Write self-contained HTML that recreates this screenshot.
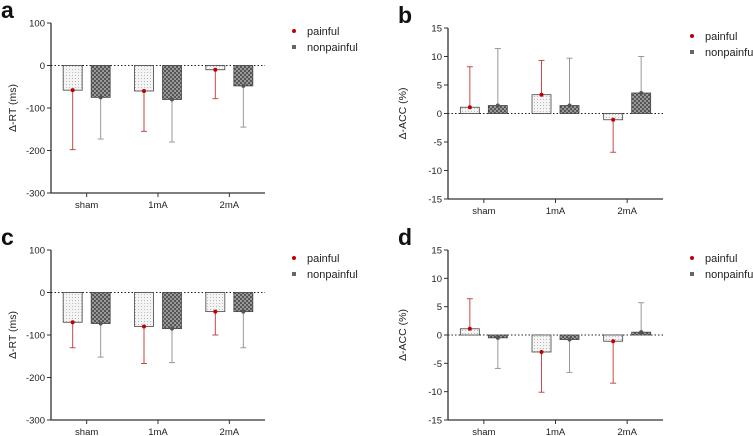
<!DOCTYPE html>
<html><head><meta charset="utf-8"><style>
body{margin:0;background:#fff;}
svg{display:block;font-family:"Liberation Sans",Arial,sans-serif;}
</style></head><body>
<svg id="fig" width="753" height="436" viewBox="0 0 753 436">
<defs>
<pattern id="dots" width="3" height="3" patternUnits="userSpaceOnUse"><rect width="3" height="3" fill="#f4f4f4"/><rect width="1" height="1" fill="#bbb"/></pattern>
<pattern id="check" width="4" height="4" patternUnits="userSpaceOnUse"><rect width="4" height="4" fill="#555"/><rect width="2" height="2" fill="#999"/><rect x="2" y="2" width="2" height="2" fill="#999"/></pattern>
</defs>
</svg>
<script>
const categories = ["sham","1mA","2mA"];
const aPainful = [-58,-60,-10], aPainfulErr = [-198,-155,-78];
const aNon = [-75,-80,-48], aNonErr = [-173,-180,-145];
const bPainful = [1.1,3.3,-1.1], bPainfulErr = [8.2,9.3,-6.8];
const bNon = [1.4,1.4,3.6], bNonErr = [11.4,9.7,10.0];
const cPainful = [-70,-80,-45], cPainfulErr = [-130,-167,-100];
const cNon = [-73,-85,-45], cNonErr = [-152,-165,-130];
const dPainful = [1.1,-3.0,-1.1], dPainfulErr = [6.4,-10.1,-8.5];
const dNon = [-0.5,-0.8,0.5], dNonErr = [-5.9,-6.6,5.7];
const rtTicks = [100,0,-100,-200,-300];
const accTicks = [15,10,5,0,-5,-10,-15];

const svg = document.getElementById('fig');
const NS = 'http://www.w3.org/2000/svg';
function mk(tag, attrs, parent, text){
  const e = document.createElementNS(NS, tag);
  for (const k in attrs) e.setAttribute(k, attrs[k]);
  if (text !== undefined) e.textContent = text;
  (parent || svg).appendChild(e);
  return e;
}

function panel(id, letter, ax, top, bot, xEnd, yMin, yMax, ticks, title, pV, pE, nV, nE){
  const g = mk('g', {});
  
  
  const y = v => bot - (v - yMin) / (yMax - yMin) * (bot - top);
  const catW = (xEnd - ax) / 3;
  const x = i => ax + catW * (i + 0.5);
  const bw = 19;
  const lab = mk('text', {x: ax - 50, y: top - 5, 'font-size': 23, 'font-weight': 'bold', fill: '#111'}, g, letter);
  
  
  const z = mk('line', {x1: ax, x2: xEnd, y1: y(0), y2: y(0), stroke: '#222', 'stroke-dasharray': '1.5,2', 'stroke-width': 1}, g);
  
  
  for (let i = 0; i < 3; i++) {
    const series = [[pV, pE, 'url(#dots)', '#c00000', '#c74a4a', -1, 'painful'], [nV, nE, 'url(#check)', '#555', '#999', 1, 'nonpainful']];
    for (const [vals, errs, fill, dot, ec, side, nm] of series) {
      const cx = x(i) + side * 14;
      const v = vals[i], e = errs[i];
      const el = mk('line', {x1: cx, x2: cx, y1: y(v), y2: y(e), stroke: ec, 'stroke-width': 1}, g);
      
      
      mk('line', {x1: cx - 3, x2: cx + 3, y1: y(e), y2: y(e), stroke: ec, 'stroke-width': 1}, g);
      const r = mk('rect', {x: cx - bw / 2, y: Math.min(y(v), y(0)), width: bw, height: Math.abs(y(v) - y(0)), fill: fill, stroke: '#444', 'stroke-width': 0.8}, g);
      
      
      const d = mk('circle', {cx: cx, cy: y(v), r: 2, fill: dot}, g);
      
      
    }
    mk('line', {x1: x(i), x2: x(i), y1: bot, y2: bot + 4, stroke: '#333'}, g);
    const t = mk('text', {x: x(i), y: bot + 15, 'font-size': 9.5, 'text-anchor': 'middle', fill: '#222'}, g, categories[i]);
    
    
  }
  const ya = mk('line', {x1: ax, x2: ax, y1: top, y2: bot, stroke: '#333', 'stroke-width': 1.3}, g);
  
  
  const xa = mk('line', {x1: ax, x2: xEnd, y1: bot, y2: bot, stroke: '#333', 'stroke-width': 1.3}, g);
  
  
  for (const tv of ticks) {
    mk('line', {x1: ax - 4, x2: ax, y1: y(tv), y2: y(tv), stroke: '#333'}, g);
    const t = mk('text', {x: ax - 6, y: y(tv) + 3.5, 'font-size': 9.5, 'text-anchor': 'end', fill: '#222'}, g, String(tv));
    
    
  }
  const ty = (top + bot) / 2;
  const tx = ax - (ticks[0] >= 100 ? 35 : 42);
  const tt = mk('text', {x: tx, y: ty, 'font-size': 10.5, 'text-anchor': 'middle', fill: '#222', transform: 'rotate(-90 ' + tx + ' ' + ty + ')'}, g, title);
  
  
  const lx = xEnd + 29;
  const le1 = mk('g', {}, g);
  
  
  mk('circle', {cx: lx, cy: top + 8, r: 2, fill: '#c00000'}, le1);
  mk('text', {x: lx + 13, y: top + 12, 'font-size': 11, fill: '#222'}, le1, 'painful');
  const le2 = mk('g', {}, g);
  
  
  mk('rect', {x: lx - 2, y: top + 22, width: 4, height: 4, fill: '#666'}, le2);
  mk('text', {x: lx + 13, y: top + 28, 'font-size': 11, fill: '#222'}, le2, 'nonpainful');
}

panel('a', 'a', 51, 23, 193, 265, -300, 100, rtTicks, 'Δ-RT (ms)', aPainful, aPainfulErr, aNon, aNonErr);
panel('b', 'b', 448, 28, 199, 663, -15, 15, accTicks, 'Δ-ACC (%)', bPainful, bPainfulErr, bNon, bNonErr);
panel('c', 'c', 51, 250, 420, 265, -300, 100, rtTicks, 'Δ-RT (ms)', cPainful, cPainfulErr, cNon, cNonErr);
panel('d', 'd', 448, 250, 420, 663, -15, 15, accTicks, 'Δ-ACC (%)', dPainful, dPainfulErr, dNon, dNonErr);
</script>
</body></html>
